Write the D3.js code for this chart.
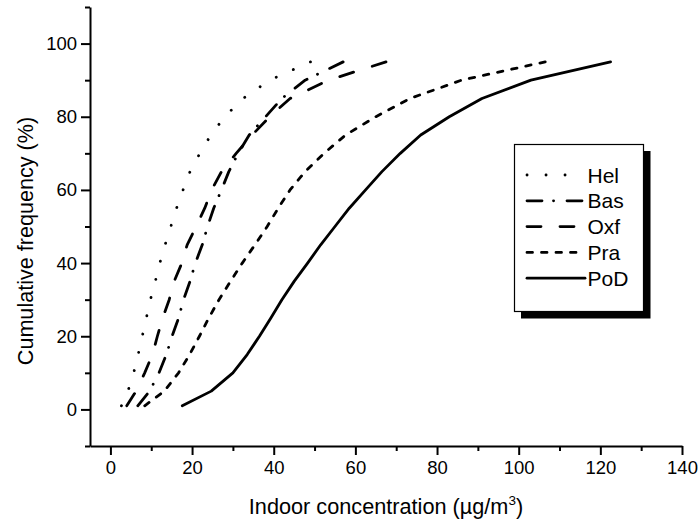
<!DOCTYPE html>
<html>
<head>
<meta charset="utf-8">
<script src="https://cdn.jsdelivr.net/npm/d3@7"></script>
<style>
  html, body { margin: 0; padding: 0; background: #fff; }
  svg { display: block; font-family: "Liberation Sans", Arial, sans-serif; }
</style>
</head>
<body>
<svg id="chart" width="698" height="524"></svg>
<script>
// ---- data (cumulative frequency %, concentration µg/m3) ----
const percentiles = [1, 5, 10, 15, 20, 25, 30, 35, 40, 45, 50, 55, 60, 65, 70, 75, 80, 85, 90, 95];
const hel = [2.7, 4.3, 5.7, 6.8, 7.8, 8.8, 9.8, 11.0, 12.1, 13.4, 14.8, 16.2, 17.8, 19.5, 21.9, 24.6, 28.0, 32.5, 39.0, 49.0];
const bas = [6.7, 9.6, 11.9, 13.7, 15.1, 16.7, 17.9, 19.5, 20.8, 22.5, 23.8, 25.3, 27.2, 29.0, 31.3, 34.0, 38.0, 42.0, 47.7, 57.0];
const oxf = [4.0, 6.3, 8.4, 10.3, 11.5, 12.8, 14.4, 15.6, 17.5, 18.8, 21.0, 23.1, 24.8, 27.2, 30.8, 34.7, 39.0, 44.0, 53.4, 67.5];
const pra = [8.4, 13.2, 16.7, 19.4, 21.8, 24.1, 26.6, 29.4, 32.3, 35.4, 38.4, 41.1, 44.0, 47.7, 52.3, 57.6, 65.0, 73.4, 86.0, 106.5];
const pod = [17.6, 24.7, 30.0, 33.5, 36.5, 39.3, 42.0, 45.0, 48.3, 51.5, 55.0, 58.5, 62.5, 66.5, 71.0, 76.0, 83.0, 91.0, 103.0, 122.5];

const seriesNames = ["Hel", "Bas", "Oxf", "Pra", "PoD"];
const seriesValues = [hel, bas, oxf, pra, pod];

const xMajorTicks = [0, 20, 40, 60, 80, 100, 120, 140];
const xMinorTicks = [10, 30, 50, 70, 90, 110, 130];
const yMajorTicks = [0, 20, 40, 60, 80, 100];
const yMinorTicks = [-10, 10, 30, 50, 70, 90, 110];

const xTitle = "Indoor concentration (µg/m";
const yTitle = "Cumulative frequency (%)";

// ---- styles: dash pattern, closing dash length, legend sample end ----
const dashStyles = {
  Hel: { pattern: [0.1, 18.9], endDash: 0.1, legendEnd: 566 },
  Bas: { pattern: [15, 11.5, 0.1, 13.4], endDash: 15, legendEnd: 585 },
  Oxf: { pattern: [14, 19], endDash: 14, legendEnd: 576 },
  Pra: { pattern: [5.5, 9], endDash: 5.5, legendEnd: 576 },
  PoD: null
};

const svg = d3.select("#chart");
const x = d3.scaleLinear().domain([-5, 140]).range([90, 682]);
const y = d3.scaleLinear().domain([-10, 110]).range([446, 7]);

const FONT = "'Liberation Sans', Arial, sans-serif";
function styleAxis(g) {
  g.selectAll("path.domain").attr("stroke", "#000").attr("stroke-width", 2);
  g.selectAll(".tick line").attr("stroke", "#000").attr("stroke-width", 2);
  g.selectAll(".tick text").attr("fill", "#000").attr("font-size", 18.5).attr("font-family", FONT);
}

// x axis
const gx = svg.append("g").attr("transform", `translate(0,${y(-10)})`)
  .call(d3.axisBottom(x).tickValues(xMajorTicks).tickSize(9).tickSizeOuter(0).tickPadding(6).tickFormat(d3.format("d")));
styleAxis(gx);
const gxm = svg.append("g").attr("transform", `translate(0,${y(-10)})`)
  .call(d3.axisBottom(x).tickValues(xMinorTicks).tickSize(5).tickFormat(""));
gxm.select("path.domain").remove();
styleAxis(gxm);

// y axis
const gy = svg.append("g").attr("transform", `translate(${x(-5)},0)`)
  .call(d3.axisLeft(y).tickValues(yMajorTicks).tickSize(9).tickSizeOuter(0).tickPadding(4).tickFormat(d3.format("d")));
styleAxis(gy);
const gym = svg.append("g").attr("transform", `translate(${x(-5)},0)`)
  .call(d3.axisLeft(y).tickValues(yMinorTicks).tickSize(5).tickFormat(""));
gym.select("path.domain").remove();
styleAxis(gym);

// titles
const xt = svg.append("text")
  .attr("x", (x(-5) + x(140)) / 2).attr("y", 513.5)
  .attr("text-anchor", "middle").attr("font-size", 21.7).attr("fill", "#000");
xt.append("tspan").text(xTitle);
xt.append("tspan").attr("font-size", 13.5).attr("dy", -9).text("3");
xt.append("tspan").attr("dy", 9).text(")");

svg.append("text")
  .attr("transform", "translate(33,241) rotate(-90)")
  .attr("text-anchor", "middle").attr("font-size", 21.6).attr("fill", "#000")
  .text(yTitle);

// lines
const line = d3.line().x(d => x(d[0])).y(d => y(d[1]));
function fitDash(style, L) {
  if (!style) return null;
  const P = d3.sum(style.pattern);
  const n = Math.max(0, Math.round((L - style.endDash) / P));
  const k = n > 0 ? L / (n * P + style.endDash) : 1;
  return style.pattern.map(v => (v * k).toFixed(3)).join(",");
}
seriesNames.forEach((name, i) => {
  const pts = seriesValues[i].map((v, j) => [v, percentiles[j]]);
  const p = svg.append("path")
    .datum(pts)
    .attr("d", line)
    .attr("fill", "none")
    .attr("stroke", "#000")
    .attr("stroke-width", 2.8)
    .attr("stroke-linecap", "round")
    .attr("stroke-linejoin", "round");
  const st = dashStyles[name];
  if (st) p.attr("stroke-dasharray", fitDash(st, p.node().getTotalLength()));
});

// legend
const lg = svg.append("g");
lg.append("rect").attr("x", 521).attr("y", 151).attr("width", 129.5).attr("height", 167.5).attr("fill", "#000");
lg.append("rect").attr("x", 514.5).attr("y", 144.5).attr("width", 129).attr("height", 167)
  .attr("fill", "#fff").attr("stroke", "#000").attr("stroke-width", 1.2);
seriesNames.forEach((name, i) => {
  const ly = 175 + i * 25.8;
  const st = dashStyles[name];
  lg.append("line").attr("x1", 527).attr("x2", st ? st.legendEnd : 585).attr("y1", ly).attr("y2", ly)
    .attr("stroke", "#000").attr("stroke-width", 2.8)
    .attr("stroke-linecap", "round")
    .attr("stroke-dasharray", st ? st.pattern.join(",") : null);
  lg.append("text").attr("x", 587.5).attr("y", ly + 7.6)
    .attr("font-size", 21).attr("fill", "#000").text(name);
});
</script>
</body>
</html>
